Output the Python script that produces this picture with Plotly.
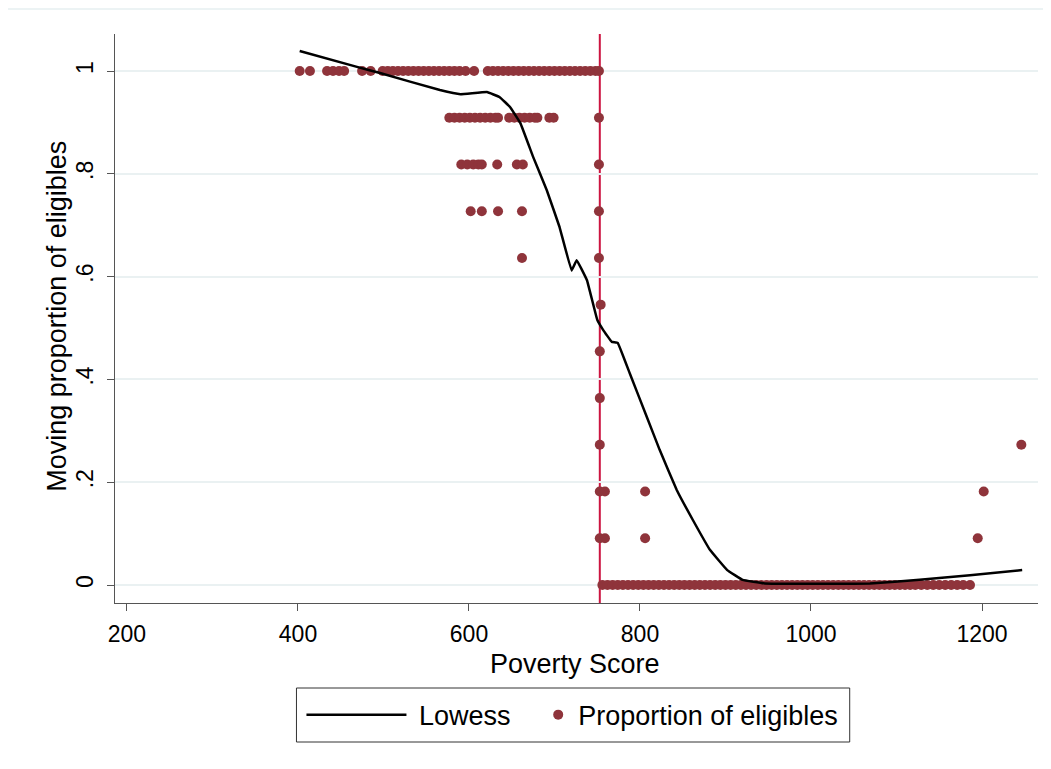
import plotly.graph_objects as go

# ---- data ----
# Moving proportion of eligibles (dots), grouped by level
level_1 = [402, 414, 434, 441, 448, 454, 475, 485, 499, 505, 511, 517, 523, 529, 535, 541,
           547, 553, 559, 565, 571, 577, 583, 589, 596, 606, 622, 628, 634, 640, 646, 652,
           658, 664, 670, 676, 682, 688, 694, 700, 706, 712, 718, 724, 730, 736, 742, 748, 752]
level_0909 = [577, 583, 589, 595, 601, 607, 613, 619, 625, 631, 634, 647, 653, 659, 665,
              671, 677, 680, 694, 699, 752]
level_0818 = [591, 598, 605, 611, 615, 633, 656, 663, 752]
level_0727 = [602, 615, 634, 662, 752]
level_0636 = [662, 752]
level_0545 = [754]
level_0455 = [753]
level_0364 = [753]
level_0273 = [753, 1246]
level_0182 = [753, 759, 806, 1202]
level_0091 = [753, 759, 806, 1195]
level_0 = [756, 762, 768, 774, 780, 786, 792, 798, 804, 810, 816, 822, 828, 834, 840, 846,
           852, 858, 864, 870, 876, 882, 888, 894, 900, 906, 912, 918, 924, 930, 936, 942,
           948, 954, 960, 966, 972, 978, 984, 990, 996, 1002, 1008, 1014, 1020, 1026, 1032,
           1038, 1044, 1050, 1056, 1062, 1068, 1074, 1080, 1086, 1092, 1098, 1104, 1110,
           1116, 1122, 1129, 1136, 1143, 1150, 1157, 1164, 1171, 1178, 1186]

levels = [
    (1.0, level_1), (10 / 11, level_0909), (9 / 11, level_0818), (8 / 11, level_0727),
    (7 / 11, level_0636), (6 / 11, level_0545), (5 / 11, level_0455), (4 / 11, level_0364),
    (3 / 11, level_0273), (2 / 11, level_0182), (1 / 11, level_0091), (0.0, level_0),
]

# Lowess curve
lowess_x = [402, 469, 496, 566, 590, 621, 636, 648, 660, 675, 691, 706, 720, 726, 738,
            750, 757, 767, 774, 788, 808, 823, 843, 862, 882, 902, 920, 946, 1069, 1127,
            1186, 1247]
lowess_y = [1.039, 1.008, 0.996, 0.963, 0.955, 0.959, 0.949, 0.930, 0.899, 0.833, 0.768,
            0.696, 0.612, 0.632, 0.593, 0.516, 0.496, 0.473, 0.471, 0.412, 0.327, 0.263,
            0.185, 0.126, 0.068, 0.029, 0.010, 0.003, 0.003, 0.010, 0.019, 0.029]

cutoff = 753
x_ticks = [200, 400, 600, 800, 1000, 1200]
y_ticks = [0, 0.2, 0.4, 0.6, 0.8, 1.0]
y_tick_labels = ["0", ".2", ".4", ".6", ".8", "1"]

dot_x, dot_y = [], []
for lv, xs in levels:
    for v in xs:
        dot_x.append(v)
        dot_y.append(lv)

FONT = "Liberation Sans, Arial, sans-serif"
DOT = "#8F343B"
TICK_SIZE = 23
TITLE_SIZE = 27
LEG_SIZE = 27

fig = go.Figure()
fig.add_trace(go.Scatter(
    x=dot_x, y=dot_y, mode="markers", name="Proportion of eligibles",
    marker=dict(color=DOT, size=10, line=dict(width=0)), legend="legend2",
))
fig.add_trace(go.Scatter(
    x=lowess_x, y=lowess_y, mode="lines", name="\u00a0Lowess",
    line=dict(color="black", width=2.5, shape="spline", smoothing=0.2), legend="legend",
))

fig.add_shape(type="line", xref="x", yref="paper", x0=cutoff, x1=cutoff, y0=0, y1=1,
              line=dict(color="#CC1440", width=2), layer="between")
# faint outer frame line at the very top
fig.add_shape(type="line", xref="paper", yref="paper", x0=-0.119, x1=1.02, y0=1.044, y1=1.044,
              line=dict(color="#E6EFF0", width=1.5))
# legend frame
fig.add_shape(type="rect", xref="paper", yref="paper", x0=0.1966, x1=0.796, y0=-0.1494, y1=-0.2443,
              line=dict(color="#333333", width=1), fillcolor="rgba(0,0,0,0)")

fig.add_annotation(text="Poverty Score", xref="paper", yref="paper", x=0.498, y=-0.107,
                   xanchor="center", yanchor="middle", showarrow=False,
                   font=dict(family=FONT, size=TITLE_SIZE, color="black"))
fig.add_annotation(text="Moving proportion of eligibles", xref="paper", yref="paper",
                   x=-0.0628, y=0.503, textangle=-90, xanchor="center", yanchor="middle",
                   showarrow=False, font=dict(family=FONT, size=TITLE_SIZE, color="black"))

leg_common = dict(orientation="h", yanchor="middle", y=-0.197, bgcolor="rgba(0,0,0,0)",
                  borderwidth=0, font=dict(family=FONT, size=LEG_SIZE, color="black"))
# The page body adds an 8 px offset, so the figure is 8 px smaller than the window.
fig.update_layout(
    width=1043, height=761,
    margin=dict(l=107, r=13, t=26, b=166),
    paper_bgcolor="white", plot_bgcolor="white",
    font=dict(family=FONT, size=TICK_SIZE, color="black"),
    showlegend=True,
    legend=dict(x=0.202, xanchor="left", itemwidth=100, **leg_common),
    legend2=dict(x=0.4585, xanchor="left", itemwidth=30, **leg_common),
)
fig.update_xaxes(
    range=[186, 1265.5], tickvals=x_ticks, ticktext=[str(t) for t in x_ticks],
    showgrid=False, zeroline=False, showline=True, linecolor="#555555", linewidth=1,
    ticks="outside", ticklen=7, tickcolor="#555555", automargin=False, ticklabelstandoff=3,
    tickfont=dict(family=FONT, size=TICK_SIZE, color="black"),
)
fig.update_yaxes(
    range=[-0.035, 1.072], tickvals=y_ticks, ticktext=y_tick_labels, tickangle=-90,
    showgrid=True, gridcolor="#EAF1F2", gridwidth=1.5, zeroline=False,
    showline=True, linecolor="#555555", linewidth=1, automargin=False, ticklabelstandoff=5,
    ticks="outside", ticklen=7, tickcolor="#555555",
    tickfont=dict(family=FONT, size=TICK_SIZE, color="black"),
)

fig.write_html("out.html")
